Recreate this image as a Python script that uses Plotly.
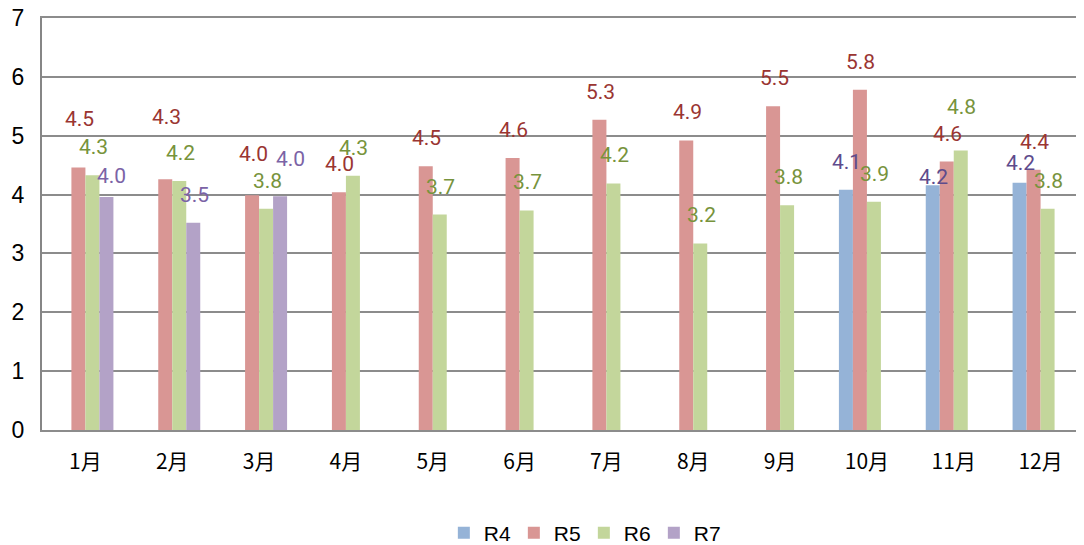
import plotly.graph_objects as go

months = ["1月", "2月", "3月", "4月", "5月", "6月", "7月", "8月", "9月", "10月", "11月", "12月"]
series_names = ["R4", "R5", "R6", "R7"]
r4 = [None, None, None, None, None, None, None, None, None, 4.08, 4.16, 4.20]
r5 = [4.46, 4.26, 3.99, 4.04, 4.48, 4.62, 5.27, 4.92, 5.50, 5.78, 4.56, 4.42]
r6 = [4.33, 4.23, 3.76, 4.32, 3.66, 3.73, 4.19, 3.17, 3.82, 3.88, 4.75, 3.76]
r7 = [3.96, 3.52, 3.97, None, None, None, None, None, None, None, None, None]
y_ticks = [0, 1, 2, 3, 4, 5, 6, 7]

values = [r4, r5, r6, r7]
bar_colors = ["#95B3D7", "#D99694", "#C3D69B", "#B3A2C7"]
label_colors = ["#5E4B8C", "#9A3532", "#77933C", "#7B63A6"]

# label placement tweaks (pixels above bar top, horizontal nudge) — style only
default_lift = 28
lift_override = {(0, 1): 49, (0, 3): 21, (1, 1): 62, (2, 1): 41, (2, 3): 37,
                 (10, 0): 8, (10, 2): 43, (11, 0): 20}
nudge_override = {(0, 3): 5, (2, 3): 10}

bargap = 0.355
n_series = len(series_names)
slot_w = (1 - bargap) / n_series
xs = list(range(len(months)))

fig = go.Figure()
for s, (name, vals, col) in enumerate(zip(series_names, values, bar_colors)):
    fig.add_trace(go.Bar(x=xs, y=vals, name=name, marker=dict(color=col, line=dict(width=0)),
                         hoverinfo="skip"))

annotations = []
for s, vals in enumerate(values):
    for i, v in enumerate(vals):
        if v is None:
            continue
        annotations.append(dict(
            x=i + (s - (n_series - 1) / 2) * slot_w, y=v, xref="x", yref="y",
            text=f"{v:.1f}", showarrow=False, xanchor="center", yanchor="middle",
            yshift=lift_override.get((i, s), default_lift),
            xshift=nudge_override.get((i, s), 1),
            font=dict(family="Roboto, Arial, sans-serif", size=21, color=label_colors[s]),
        ))

fig.update_layout(
    width=1076, height=537,
    margin=dict(l=34, r=0, t=10, b=115, autoexpand=False),
    paper_bgcolor="white", plot_bgcolor="white",
    barmode="group", bargap=bargap, bargroupgap=0,
    annotations=annotations,
    showlegend=True,
    legend=dict(orientation="h", x=0.52, xanchor="center", y=-0.25, yanchor="middle",
                font=dict(family="Arial, Liberation Sans, sans-serif", size=21, color="#000"),
                itemwidth=30, tracegroupgap=0, entrywidth=25, entrywidthmode="pixels"),
    font=dict(family="Noto Sans CJK JP", color="#000"),
)
fig.update_xaxes(
    tickmode="array", tickvals=xs, ticktext=months, range=[-0.5, len(months) - 0.5],
    showline=True, mirror=True, linecolor="#8C8C8C", linewidth=2, showgrid=False, ticks="",
    ticklabelstandoff=12, ticklabeloverflow="allow",
    tickfont=dict(family="Noto Sans CJK JP", size=21, color="#000"),
)
fig.update_yaxes(
    range=[0, 7], tickvals=y_ticks, showline=True, linecolor="#868686", linewidth=2,
    showgrid=True, gridcolor="#8C8C8C", gridwidth=1.5, zeroline=False, ticks="",
    ticklabelstandoff=11, ticklabeloverflow="allow",
    tickfont=dict(family="Liberation Sans, Arial, sans-serif", size=23, color="#000"),
)

fig.write_html("out.html")
